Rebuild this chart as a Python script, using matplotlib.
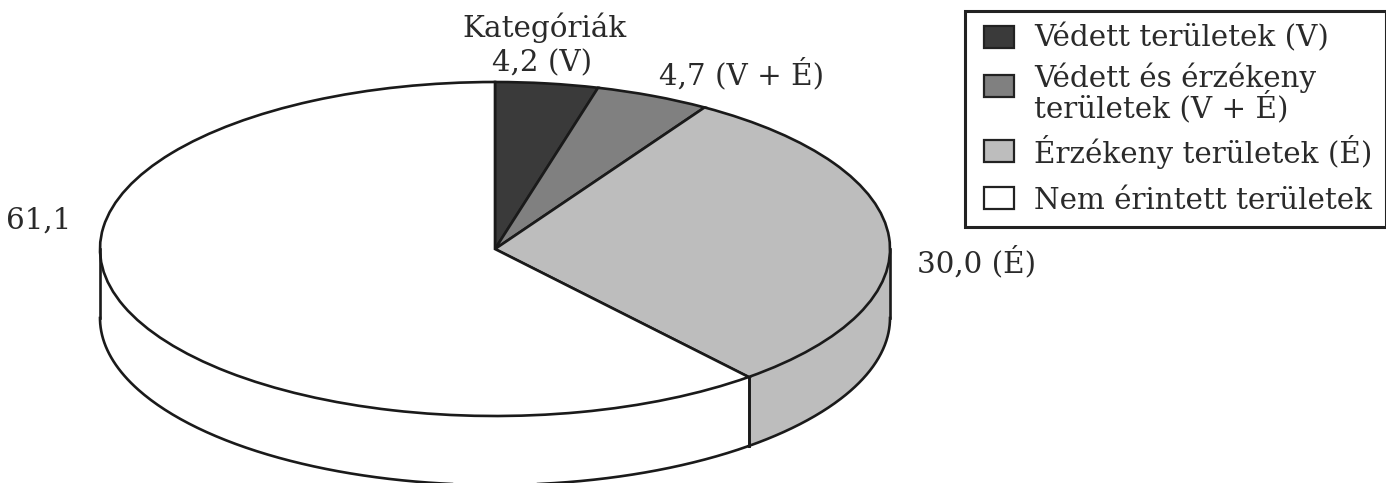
import numpy as np
import matplotlib
matplotlib.use('Agg')
import matplotlib.pyplot as plt
from matplotlib.patches import Rectangle

categories = ['Védett területek (V)', 'Védett és érzékeny\nterületek (V + É)',
              'Érzékeny területek (É)', 'Nem érintett területek']
values = [4.2, 4.7, 30.0, 61.1]
value_labels = ['4,2 (V)', '4,7 (V + É)', '30,0 (É)', '61,1']
colors = ['#3a3a3a', '#808080', '#bdbdbd', '#ffffff']

W, H = 1386, 483
# pie geometry in pixels of the picture
CX, CY = 495, 249
RX, RY = 395, 167
DEPTH = 69 / RY

# the original type is a stretched Times, DejaVu Serif gets closest on width
plt.rcParams['font.family'] = ['DejaVu Serif']

fig = plt.figure(figsize=(W / 100, H / 100), dpi=100)
ax = fig.add_axes([0, 0, 1, 1])

ax.pie(values, colors=colors, startangle=90, counterclock=False, radius=1,
       wedgeprops={'edgecolor': '#1a1a1a', 'linewidth': 1.9})
ax.set_aspect('auto')
ax.set_xlim(-CX / RX, (W - CX) / RX)
ax.set_ylim(-(H - CY) / RY, CY / RY)

# side wall, only the front half of the rim can be seen
ends = np.cumsum(values) / np.sum(values) * 2 * np.pi
starts = ends - np.array(values) / np.sum(values) * 2 * np.pi
for start, end, color in zip(starts, ends, colors):
    lo, hi = max(start, np.pi / 2), min(end, 3 * np.pi / 2)
    if lo >= hi:
        continue
    t = np.linspace(lo, hi, 200)
    x, y = np.sin(t), np.cos(t)
    ax.fill(np.r_[x, x[::-1]], np.r_[y, y[::-1] - DEPTH], facecolor=color,
            edgecolor='none', zorder=0.5)
    ax.plot(x, y - DEPTH, color='#1a1a1a', lw=1.9, zorder=3)
    for tt in (lo, hi):
        ax.plot([np.sin(tt)] * 2, [np.cos(tt), np.cos(tt) - DEPTH],
                color='#1a1a1a', lw=1.9, zorder=3)


def px(x, y):
    return (x - CX) / RX, (CY - y) / RY


label_size = 21.2
text_color = '#2a2a2a'
ax.text(*px(545, 28), 'Kategóriák', ha='center', va='center', fontsize=label_size, color=text_color)
ax.text(*px(542, 63), value_labels[0], ha='center', va='center', fontsize=label_size, color=text_color)
ax.text(*px(742, 74), value_labels[1], ha='center', va='center', fontsize=label_size, color=text_color)
ax.text(*px(977, 262), value_labels[2], ha='center', va='center', fontsize=label_size, color=text_color)
ax.text(*px(39, 221), value_labels[3], ha='center', va='center', fontsize=label_size, color=text_color)

# legend box is drawn by hand in figure pixels, the original spacing is uneven
box_x0, box_y0, box_x1, box_y1 = 965, 11, 1386, 227
fig.add_artist(Rectangle((box_x0 / W, 1 - box_y1 / H), (box_x1 - box_x0) / W, (box_y1 - box_y0) / H,
                         transform=fig.transFigure, facecolor='white',
                         edgecolor='#222222', lw=2.2, zorder=5))
swatch_y = [37, 85.5, 150.5, 198]
text_y = [38, 93, 152, 201]
for name, color, sy, ty in zip(categories, colors, swatch_y, text_y):
    fig.add_artist(Rectangle((984 / W, 1 - (sy + 11) / H), 30 / W, 22 / H,
                             transform=fig.transFigure, facecolor=color,
                             edgecolor='#222222', lw=1.6, zorder=6))
    fig.text(1034 / W, 1 - ty / H, name, ha='left', va='center', fontsize=label_size,
             linespacing=0.92, color=text_color, zorder=7)

fig.savefig('out.png', dpi=100)
